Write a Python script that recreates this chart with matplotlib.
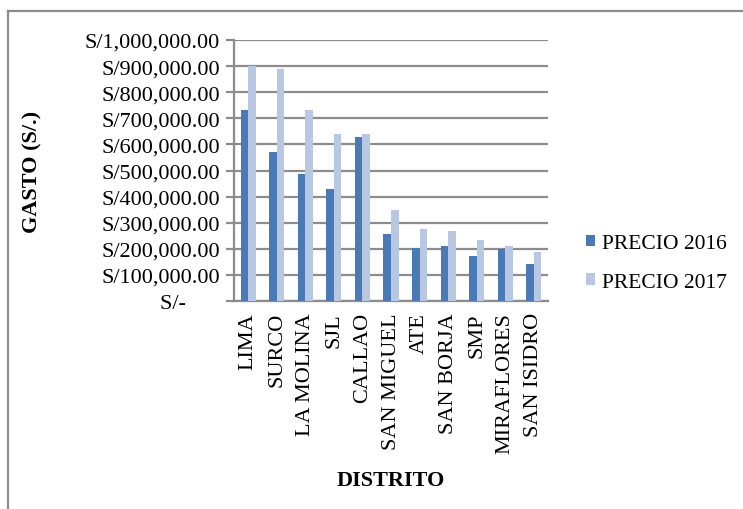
import matplotlib
matplotlib.use("Agg")
import matplotlib.pyplot as plt
import numpy as np
from matplotlib.ticker import FuncFormatter, MultipleLocator
from matplotlib.patches import Patch
from matplotlib.lines import Line2D

districts = ["LIMA", "SURCO", "LA MOLINA", "SJL", "CALLAO", "SAN MIGUEL",
             "ATE", "SAN BORJA", "SMP", "MIRAFLORES", "SAN ISIDRO"]
precio_2016 = [732000, 570000, 487000, 428000, 630000, 258000,
               203000, 210000, 172000, 198000, 142000]
precio_2017 = [900000, 890000, 732000, 640000, 640000, 350000,
               275000, 270000, 232000, 210000, 187000]
series_names = ["PRECIO 2016", "PRECIO 2017"]

c16 = "#4A7AB5"
c17 = "#B8C8E2"
grid_c = "#8C8C8C"

plt.rcParams['font.family'] = ['Liberation Serif', 'DejaVu Serif']
fs = 16

fig = plt.figure(figsize=(7.43, 5.10), dpi=100)
ax = fig.add_axes([234/743, 1-302/510, (548-234)/743, (302-41)/510])

x = np.arange(len(districts))
w = 0.265
ax.bar(x - w/2, precio_2016, w, color=c16, zorder=3)
ax.bar(x + w/2, precio_2017, w, color=c17, zorder=3)

ax.set_xlim(-0.5, len(districts) - 0.5)
ax.set_ylim(0, 1000000)
ax.yaxis.set_major_locator(MultipleLocator(100000))

def fmt(v, pos):
    if v == 0:
        return "S/-      "
    return "S/{:,.2f}".format(v)

ax.yaxis.set_major_formatter(FuncFormatter(fmt))
ax.grid(axis='y', color=grid_c, linewidth=1.6, zorder=0)
ax.set_axisbelow(True)

for s in ['top', 'right']:
    ax.spines[s].set_visible(False)
for s in ['left', 'bottom']:
    ax.spines[s].set_color(grid_c)
    ax.spines[s].set_linewidth(1.6)

ax.tick_params(axis='y', length=6, width=1.6, color=grid_c, labelsize=fs, pad=4)
ax.tick_params(axis='x', length=0, labelsize=fs, pad=8)
ax.set_xticks(x)
ax.set_xticklabels(districts, rotation=90, va='top', ha='center')

ax.set_ylabel("GASTO (S/.)", fontsize=fs, fontweight='bold')
ax.yaxis.set_label_coords((42 - 234) / 314, 0.5)
ax.set_xlabel("DISTRITO", fontsize=fs, fontweight='bold', labelpad=12)

handles = [Patch(facecolor=c16, edgecolor='none'), Patch(facecolor=c17, edgecolor='none')]
fig.legend(handles, series_names, loc='center left', bbox_to_anchor=(577/743, 1-264/510),
           frameon=False, fontsize=15.5, handlelength=0.45, handleheight=0.45,
           handletextpad=0.3, labelspacing=0.9, borderaxespad=0)

fig.add_artist(Line2D([8/743, 8/743], [0, 1-12/510], transform=fig.transFigure,
                      color=grid_c, linewidth=1.6))
fig.add_artist(Line2D([8/743, 1], [1-12/510, 1-12/510], transform=fig.transFigure,
                      color=grid_c, linewidth=1.6))

fig.savefig("out.png", dpi=100)
